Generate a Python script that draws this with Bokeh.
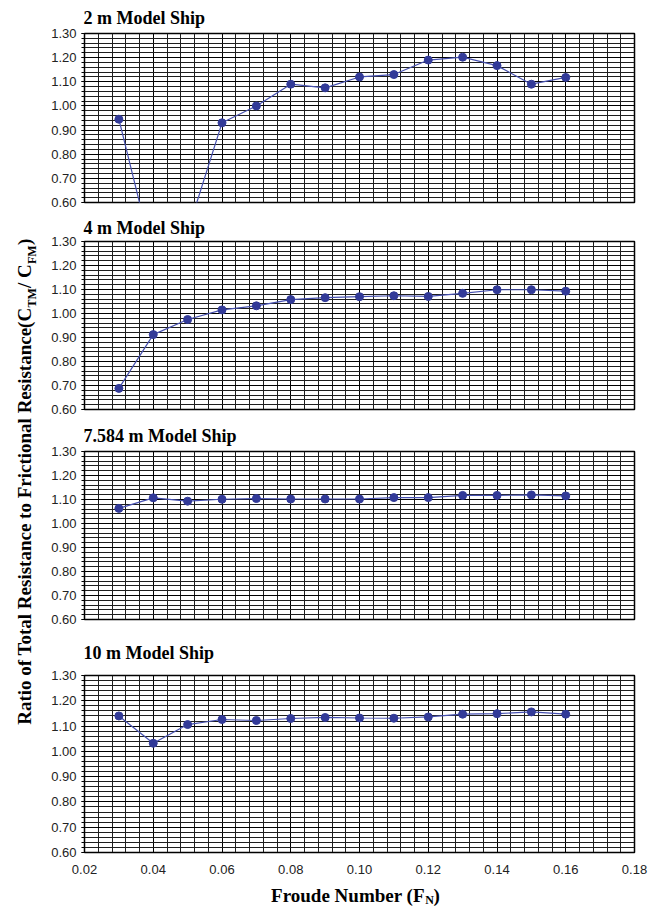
import math
from bokeh.plotting import figure
from bokeh.layouts import row, column
from bokeh.models import Range1d, FixedTicker, NumeralTickFormatter
from bokeh.embed import file_html
from bokeh.resources import INLINE
from bokeh.core.properties import value

# ---------------- data ----------------
froude = [0.03, 0.04, 0.05, 0.06, 0.07, 0.08, 0.09, 0.10, 0.11, 0.12, 0.13, 0.14, 0.15, 0.16]
ratio_2m = [0.945, 0.37, 0.48, 0.930, 1.000, 1.090, 1.075, 1.120, 1.130, 1.190, 1.202, 1.167, 1.090, 1.118]
ratio_4m = [0.688, 0.912, 0.975, 1.015, 1.032, 1.058, 1.066, 1.070, 1.074, 1.071, 1.084, 1.099, 1.099, 1.093]
ratio_7584m = [1.063, 1.107, 1.093, 1.101, 1.104, 1.102, 1.102, 1.102, 1.108, 1.108, 1.117, 1.117, 1.119, 1.115]
ratio_10m = [1.140, 1.032, 1.106, 1.126, 1.122, 1.130, 1.134, 1.132, 1.131, 1.136, 1.147, 1.149, 1.156, 1.147]

panel_titles = ["2 m Model Ship", "4 m Model Ship", "7.584 m Model Ship", "10 m Model Ship"]
x_ticks = [0.02, 0.04, 0.06, 0.08, 0.10, 0.12, 0.14, 0.16, 0.18]
y_ticks = [0.60, 0.70, 0.80, 0.90, 1.00, 1.10, 1.20, 1.30]
x_minor = [round(0.02 + 0.004 * i, 3) for i in range(41)]
y_minor = [round(0.60 + 0.02 * i, 2) for i in range(36)]

x_title_main = "Froude Number (F"
x_title_sub = "N"
x_title_end = ")"
y_title_main = "Ratio of Total Resistance to Frictional Resistance(C"
y_title_parts = ["TM", "/ C", "FM", ")"]

# ---------------- styling ----------------
SERIF = "Liberation Serif"
SANS = "Liberation Sans"
LINE_COL = "#4650b0"
DOT_COL = "#323a98"
FIG_W = 606
LEFT_W = 48

series = [ratio_2m, ratio_4m, ratio_7584m, ratio_10m]
panel_h = [211, 207, 210, 252]
panel_top = [31, 28, 31, 45]
panel_bottom = [9, 9, 9, 28]
title_standoff = [11, 7.6, 11, 25]
XT_H = 26


def text_fig(w, h):
    f = figure(width=w, height=h, output_backend="svg", toolbar_location=None,
               x_range=Range1d(0, w), y_range=Range1d(0, h),
               x_axis_location=None, y_axis_location=None, min_border=0)
    f.outline_line_color = None
    f.grid.visible = False
    f.background_fill_color = "white"
    f.border_fill_color = "white"
    return f


items = []
for i, (vals, title) in enumerate(zip(series, panel_titles)):
    last = (i == 3)
    p = figure(width=FIG_W, height=panel_h[i], output_backend="svg", toolbar_location=None,
               x_range=Range1d(0.02, 0.18), y_range=Range1d(0.60, 1.30),
               min_border_left=36, min_border_right=20,
               min_border_top=panel_top[i], min_border_bottom=panel_bottom[i])
    p.background_fill_color = "white"
    p.border_fill_color = "white"
    p.outline_line_color = "black"
    p.outline_line_width = 1.5

    p.title.text = title
    p.title.text_font = SERIF
    p.title.text_font_style = "bold"
    p.title.text_font_size = "18px"
    p.title.text_color = "black"
    p.title.align = "left"
    p.title.offset = -1
    p.title.standoff = title_standoff[i]

    xt = FixedTicker(ticks=x_ticks, minor_ticks=x_minor)
    yt = FixedTicker(ticks=y_ticks, minor_ticks=y_minor)
    p.xaxis.ticker = xt
    p.yaxis.ticker = yt
    p.xgrid.ticker = xt
    p.ygrid.ticker = yt
    for g in (p.xgrid, p.ygrid):
        g.grid_line_color = "black"
        g.grid_line_width = 1
        g.minor_grid_line_color = "#1e1e1e"
        g.minor_grid_line_width = 1

    p.yaxis.formatter = NumeralTickFormatter(format="0.00")
    p.yaxis.major_label_text_font = SANS
    p.yaxis.major_label_text_font_size = "13px"
    p.yaxis.major_label_text_color = "#222222"
    p.yaxis.major_tick_out = 3
    p.yaxis.major_tick_in = 0
    p.yaxis.minor_tick_out = 3
    p.yaxis.minor_tick_in = 0
    p.yaxis.major_label_standoff = 5
    p.yaxis.axis_line_color = "black"
    p.yaxis.major_tick_line_color = "black"
    p.yaxis.minor_tick_line_color = "black"

    if last:
        p.xaxis.formatter = NumeralTickFormatter(format="0.00")
        p.xaxis.major_label_text_font = SANS
        p.xaxis.major_label_text_font_size = "13px"
        p.xaxis.major_label_text_color = "#222222"
        p.xaxis.major_tick_out = 0
        p.xaxis.major_tick_in = 0
        p.xaxis.minor_tick_out = 0
        p.xaxis.minor_tick_in = 0
        p.xaxis.major_label_standoff = 12
        p.xaxis.axis_line_color = "black"
    else:
        p.xaxis.visible = False

    p.line(froude, vals, line_color=LINE_COL, line_width=1.2)
    p.scatter(froude, vals, size=8, fill_color=DOT_COL, line_color=DOT_COL)
    items.append(p)

# x-axis title (text anchored at its vertical middle)
xt_fig = text_fig(FIG_W, XT_H)
xa = 375
xt_fig.text(x=[xa], y=[11.4], text=[x_title_main], text_align="right", text_baseline="middle",
            text_font=value(SERIF), text_font_style="bold", text_font_size="19px", text_color="black")
xt_fig.text(x=[xa + 0.5], y=[6.5], text=[x_title_sub], text_align="left", text_baseline="middle",
            text_font=value(SERIF), text_font_style="bold", text_font_size="12px", text_color="black")
xt_fig.text(x=[xa + 9.5], y=[11.4], text=[x_title_end], text_align="left", text_baseline="middle",
            text_font=value(SERIF), text_font_style="bold", text_font_size="19px", text_color="black")
items.append(xt_fig)

# y-axis title (rotated, anchored at its middle)
TOTAL_H = sum(panel_h) + XT_H
yt_fig = text_fig(LEFT_W, TOTAL_H)
ya = 599
bx = 24.4
sub_x = 31.8
yt_fig.text(x=[bx], y=[ya], text=[y_title_main], angle=math.pi / 2, text_align="right",
            text_baseline="middle", text_font=value(SERIF), text_font_style="bold",
            text_font_size="19px", text_color="black")
offs = [0, 19.5, 43.5, 62.5]
sizes = ["12px", "19px", "12px", "19px"]
xs = [sub_x, bx, sub_x, bx]
for part, o, s, x0 in zip(y_title_parts, offs, sizes, xs):
    yt_fig.text(x=[x0], y=[ya + o], text=[part], angle=math.pi / 2, text_align="left",
                text_baseline="middle", text_font=value(SERIF), text_font_style="bold",
                text_font_size=s, text_color="black")

layout = row(yt_fig, column(*items))
open("out.html", "w").write(file_html(layout, INLINE))
